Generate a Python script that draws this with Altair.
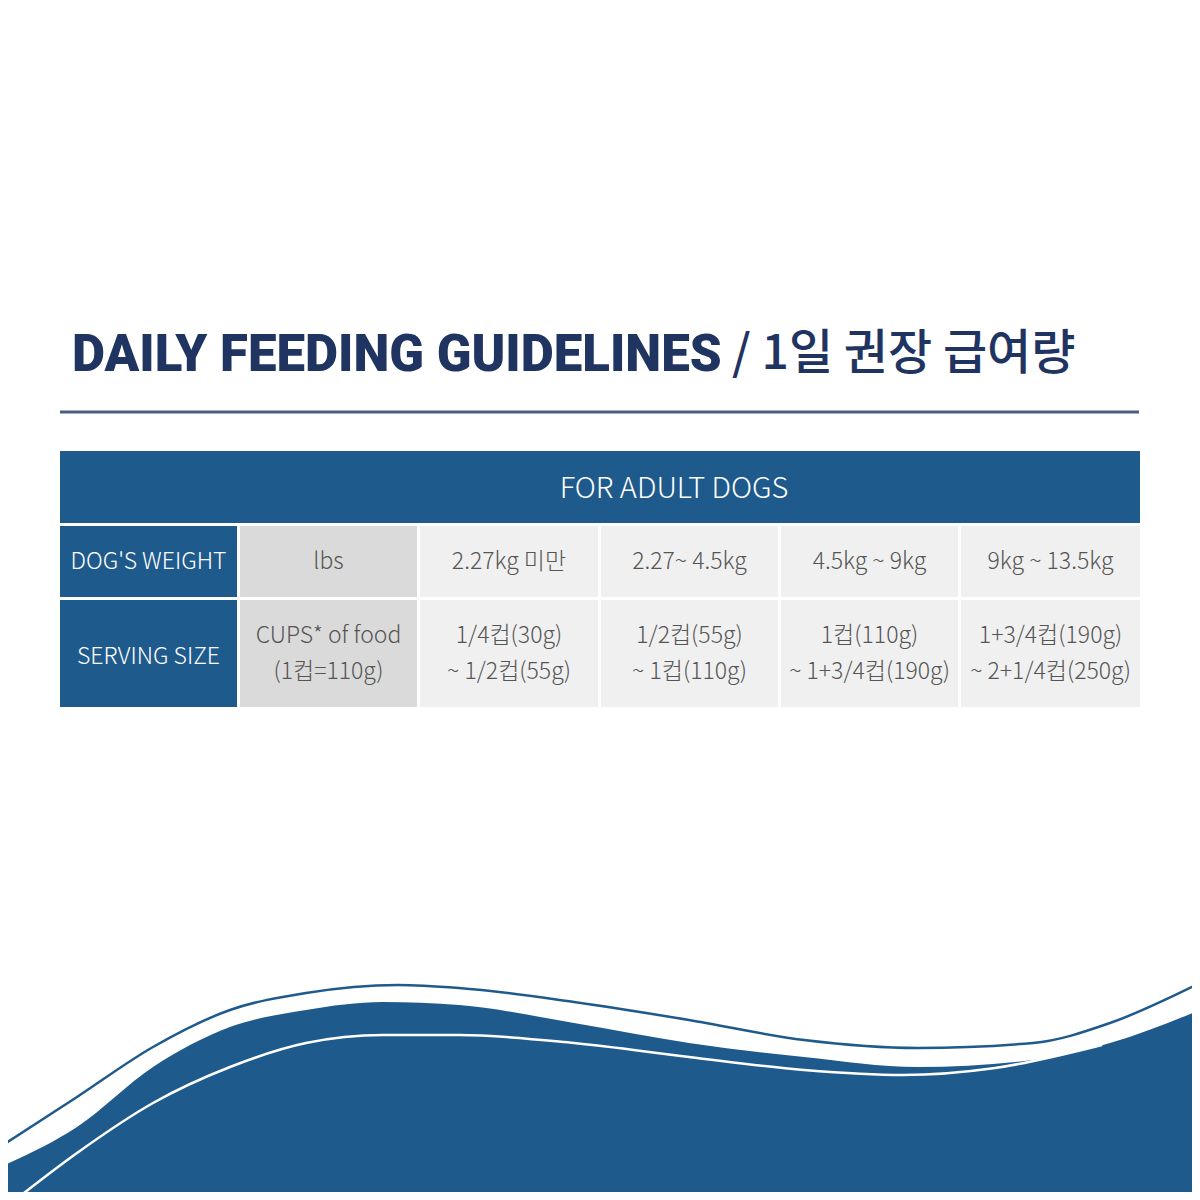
import altair as alt
import pandas as pd

# ---------------- data ----------------
title_en = "DAILY FEEDING GUIDELINES"
title_ko = "/ 1일 권장 급여량"
header_label = "FOR ADULT DOGS"
row_labels = ["DOG'S WEIGHT", "SERVING SIZE"]
weight_cells = ["lbs", "2.27kg 미만", "2.27~ 4.5kg", "4.5kg ~ 9kg", "9kg ~ 13.5kg"]
serving_cells = [
    "CUPS* of food\n(1컵=110g)",
    "1/4컵(30g)\n~ 1/2컵(55g)",
    "1/2컵(55g)\n~ 1컵(110g)",
    "1컵(110g)\n~ 1+3/4컵(190g)",
    "1+3/4컵(190g)\n~ 2+1/4컵(250g)",
]

# decorative wave (page pixel coordinates)
outer_x = [0, 77, 153, 230, 306, 398, 459, 574, 689, 804, 918, 1033, 1110, 1200]
outer_y = [1147, 1097, 1047, 1010, 993, 985, 988, 1002, 1020, 1040, 1048, 1043, 1023, 983]
fill_x = [0, 77, 153, 230, 306, 383, 459, 574, 689, 804, 918, 1033, 1110, 1200]
fill_y = [1167, 1127, 1067, 1027, 1010, 1002, 1005, 1023, 1043, 1057, 1067, 1060, 1043, 1010]
inner_x = [15, 77, 153, 230, 306, 383, 459, 574, 689, 804, 903, 995, 1102]
inner_y = [1200, 1153, 1103, 1067, 1043, 1035, 1035, 1043, 1057, 1070, 1075, 1068, 1045]

# ---------------- layout ----------------
col_edges = [(60, 237), (240, 417), (420, 598), (601, 778), (781, 958), (961, 1140)]
row_edges = [(526, 597), (600, 707)]
header_edge = (451, 523)
LINE_H = 36

BLUE = "#1f5a8c"
NAVY = "#1f3461"
GREY_TXT = "#555555"
FONT = "Noto Sans CJK KR"

xs = alt.Scale(domain=[8, 1192], nice=False, zero=False)
ys = alt.Scale(domain=[8, 1192], nice=False, zero=False, reverse=True)

cells = []
for r, (label, vals) in enumerate(zip(row_labels, [weight_cells, serving_cells])):
    texts = [label] + vals
    for c, t in enumerate(texts):
        x0, x1 = col_edges[c]
        y0, y1 = row_edges[r]
        fill = BLUE if c == 0 else ("#dadada" if c == 1 else "#f0f0f0")
        color = "white" if c == 0 else GREY_TXT
        n_lines = t.count("\n") + 1
        cy = (y0 + y1) / 2 - (n_lines - 1) * LINE_H / 2 + (3 if n_lines == 1 and r == 1 else 0)
        cells.append(dict(x=x0, x2=x1, y=y0, y2=y1, cx=(x0 + x1) / 2, cy=cy,
                          fill=fill, color=color, text=t))
cells_df = pd.DataFrame(cells)
cells_df.loc[len(cells_df)] = dict(x=60, x2=1140, y=header_edge[0], y2=header_edge[1],
                                   cx=674, cy=489, fill=BLUE, color="white", text=header_label)

rects = alt.Chart(cells_df).mark_rect().encode(
    x=alt.X("x:Q", scale=xs, axis=None),
    x2="x2:Q",
    y=alt.Y("y:Q", scale=ys, axis=None),
    y2="y2:Q",
    color=alt.Color("fill:N", scale=None),
)

body_df = cells_df.iloc[:-1]
head_df = cells_df.iloc[-1:]

cell_text = alt.Chart(body_df).mark_text(
    font=FONT, fontSize=23, fontWeight=300, lineBreak="\n", lineHeight=LINE_H,
    baseline="middle", align="center"
).encode(
    x=alt.X("cx:Q", scale=xs, axis=None),
    y=alt.Y("cy:Q", scale=ys, axis=None),
    text="text:N",
    color=alt.Color("color:N", scale=None),
)

head_text = alt.Chart(head_df).mark_text(
    font=FONT, fontSize=29, fontWeight=300, baseline="middle", align="center", color="white"
).encode(
    x=alt.X("cx:Q", scale=xs, axis=None),
    y=alt.Y("cy:Q", scale=ys, axis=None),
    text="text:N",
)

titles_df = pd.DataFrame([dict(x=72, y=371, text=title_en)])
title1 = alt.Chart(titles_df).mark_text(
    font="Roboto", fontSize=51, fontWeight=900, align="left", baseline="alphabetic", color=NAVY
).encode(
    x=alt.X("x:Q", scale=xs, axis=None),
    y=alt.Y("y:Q", scale=ys, axis=None),
    text="text:N",
)
sub_df = pd.DataFrame([dict(x=732, y=355, text=title_ko)])
title2 = alt.Chart(sub_df).mark_text(
    font=FONT, fontSize=48, fontWeight=500, align="left", baseline="middle", color=NAVY
).encode(
    x=alt.X("x:Q", scale=xs, axis=None),
    y=alt.Y("y:Q", scale=ys, axis=None),
    text="text:N",
)

rule_df = pd.DataFrame([dict(x=60, x2=1139, y=412)])
rule = alt.Chart(rule_df).mark_rule(color="#4b5d7c", strokeWidth=3).encode(
    x=alt.X("x:Q", scale=xs, axis=None),
    x2="x2:Q",
    y=alt.Y("y:Q", scale=ys, axis=None),
)

fill_df = pd.DataFrame(dict(x=fill_x, y=fill_y, y2=[1200] * len(fill_x)))
wave_fill = alt.Chart(fill_df).mark_area(color=BLUE, interpolate="monotone", clip=True).encode(
    x=alt.X("x:Q", scale=xs, axis=None),
    y=alt.Y("y:Q", scale=ys, axis=None),
    y2="y2:Q",
)
outer_df = pd.DataFrame(dict(x=outer_x, y=outer_y))
wave_outer = alt.Chart(outer_df).mark_line(color=BLUE, strokeWidth=2.5, interpolate="monotone", clip=True).encode(
    x=alt.X("x:Q", scale=xs, axis=None),
    y=alt.Y("y:Q", scale=ys, axis=None),
)
inner_df = pd.DataFrame(dict(x=inner_x, y=inner_y))
wave_inner = alt.Chart(inner_df).mark_line(color="white", strokeWidth=2.5, interpolate="monotone", clip=True).encode(
    x=alt.X("x:Q", scale=xs, axis=None),
    y=alt.Y("y:Q", scale=ys, axis=None),
)

chart = alt.layer(
    wave_fill, wave_outer, wave_inner, rule, rects, cell_text, head_text, title1, title2
).properties(
    width=1184, height=1184, padding=0, background="white"
).configure_view(stroke=None)

chart.save("out.html", embed_options={"renderer": "svg", "actions": False})
